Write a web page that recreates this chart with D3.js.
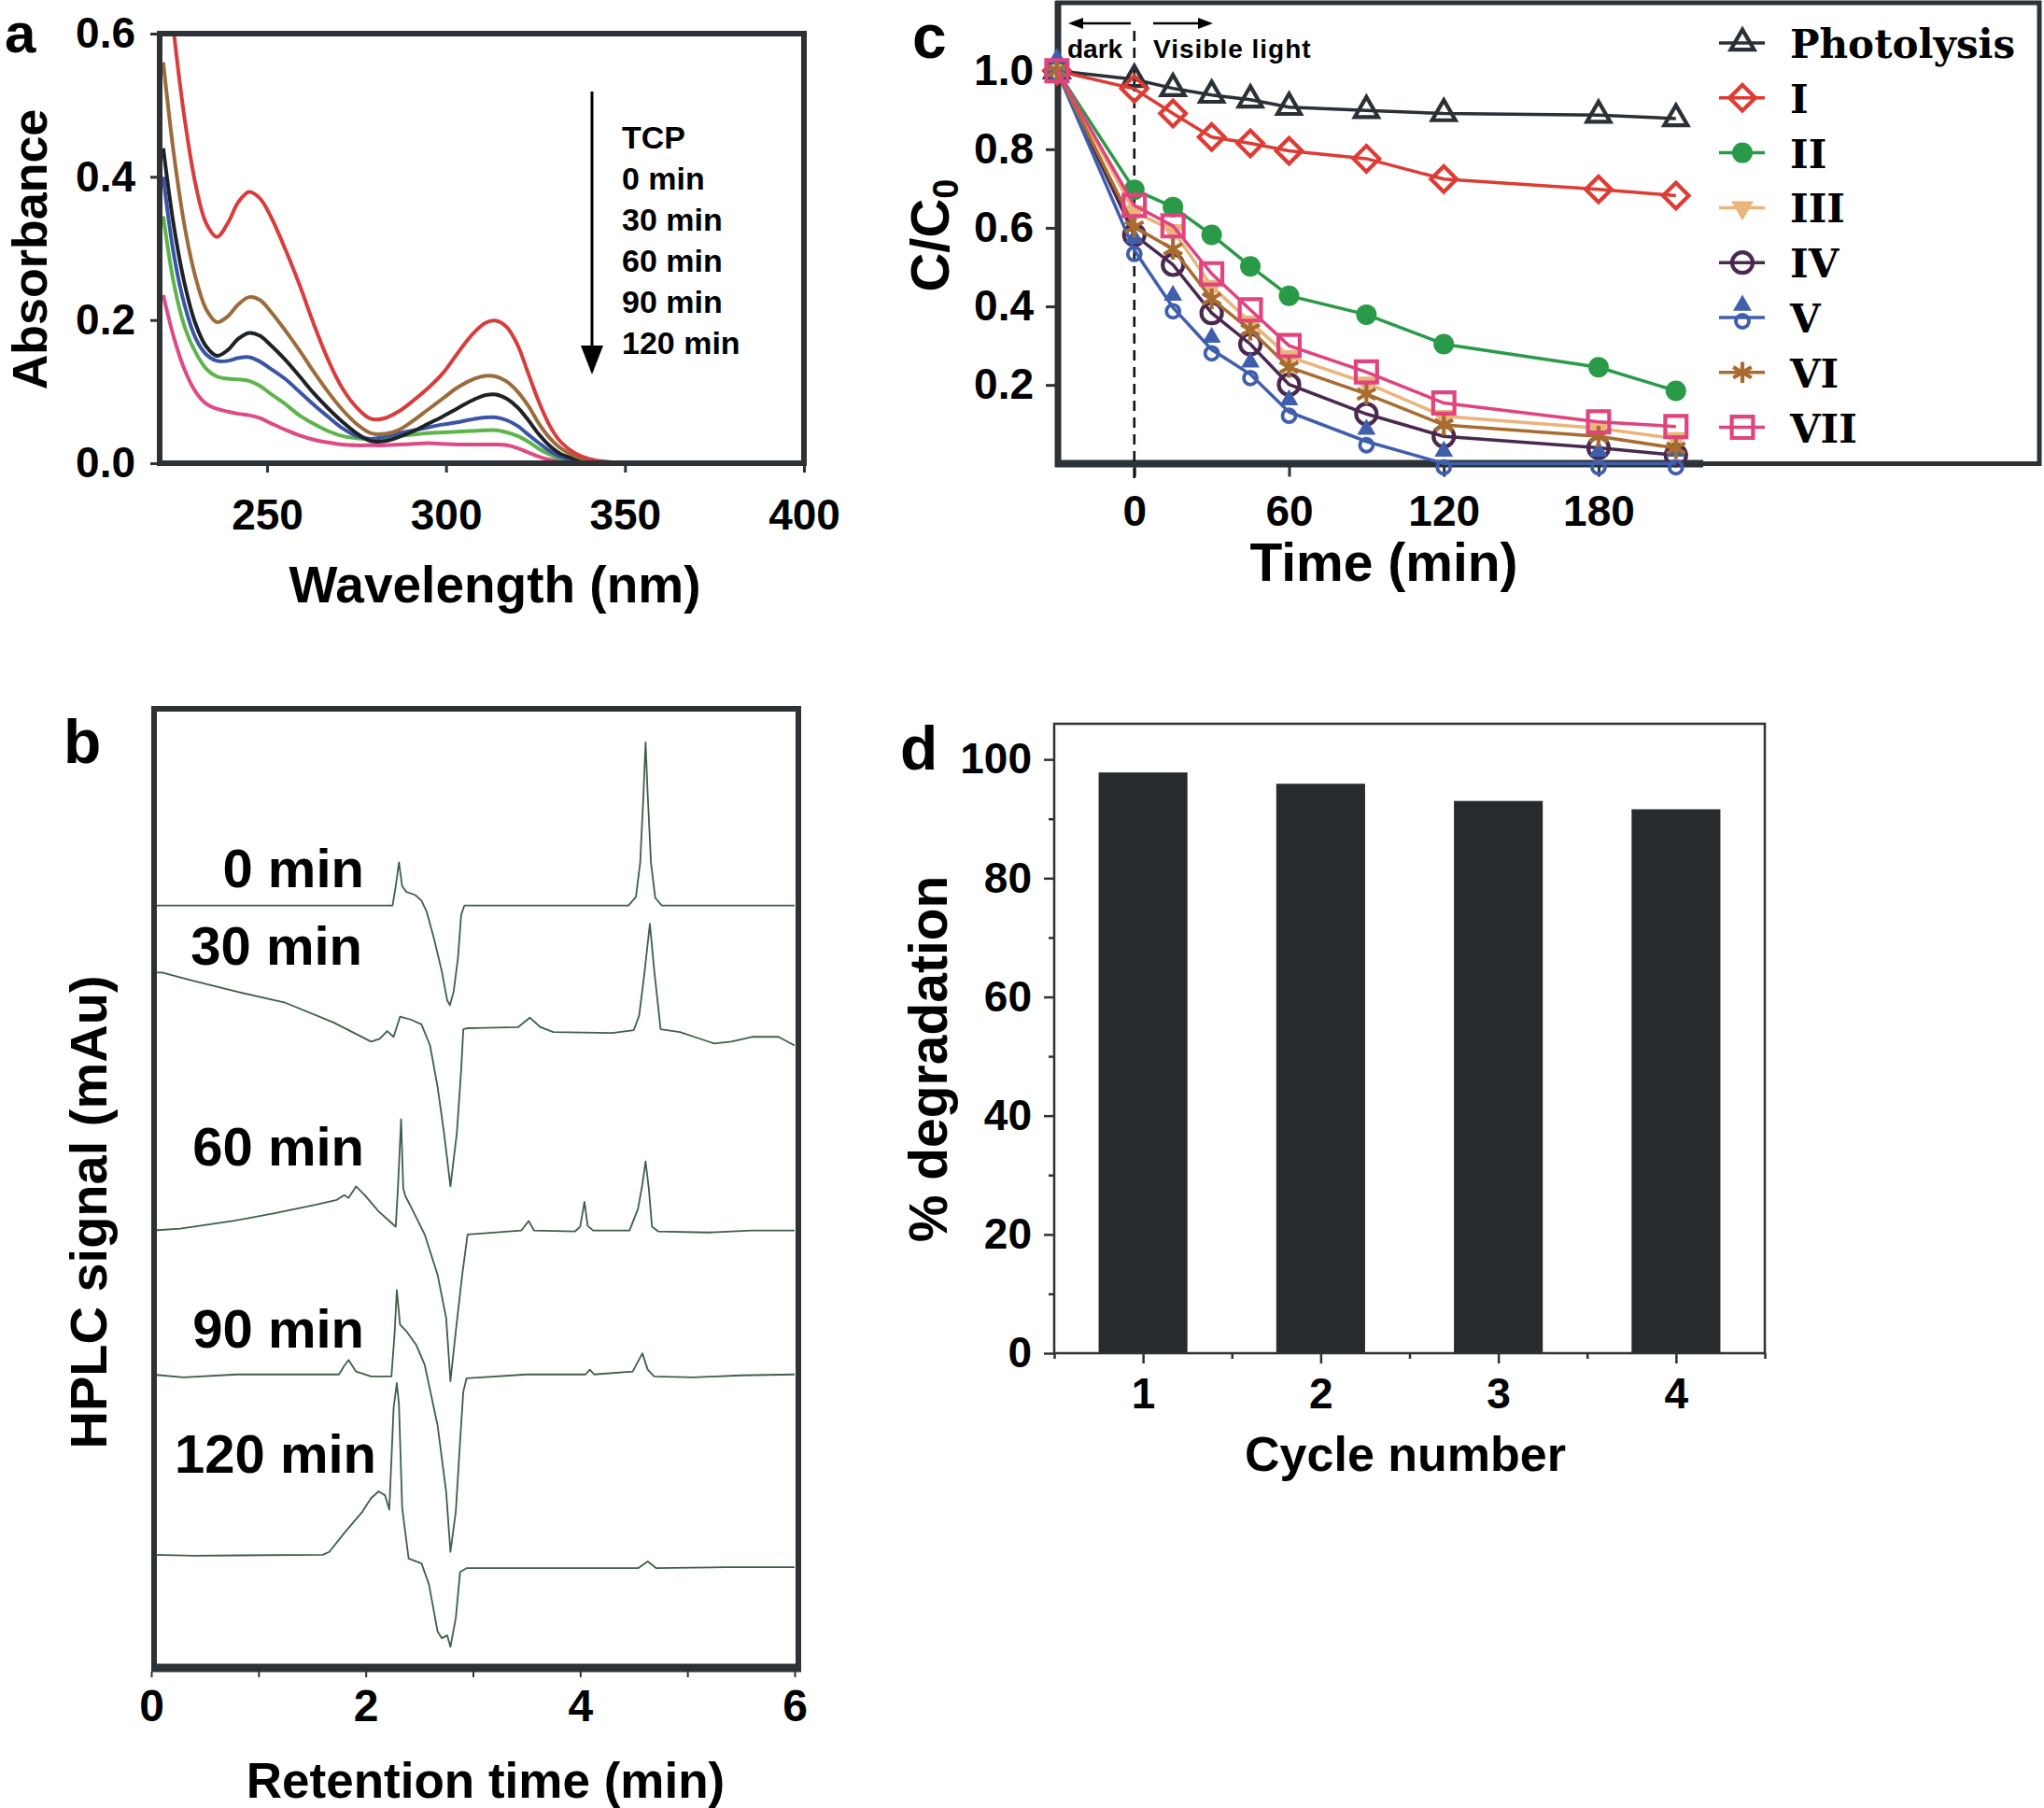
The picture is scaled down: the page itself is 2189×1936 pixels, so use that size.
<!DOCTYPE html>
<html><head><meta charset="utf-8">
<script src="https://cdn.jsdelivr.net/npm/d3@7"></script>
<style>
html,body{margin:0;padding:0;background:#fff;}
svg{display:block;}
</style></head><body>
<svg id="fig" width="2189" height="1936"></svg>
<script>
// ================= DATA =================
// Panel a : UV-vis spectra
const wavelengths = [221,224,227,230,233,236,239,242,245,248,251,255,259,263,267,271,275,279,283,287,291,295,299,303,307,311,314,317,320,323,326,329,332,336,340,345,350,400];
const absTCP  = [0.75,0.60,0.48,0.39,0.335,0.316,0.335,0.365,0.379,0.37,0.345,0.30,0.25,0.195,0.145,0.105,0.078,0.062,0.063,0.073,0.088,0.105,0.125,0.152,0.178,0.196,0.199,0.19,0.165,0.125,0.085,0.052,0.03,0.014,0.006,0.002,0.001,0];
const abs0    = [0.56,0.43,0.33,0.26,0.215,0.197,0.205,0.222,0.232,0.228,0.212,0.186,0.158,0.128,0.10,0.075,0.055,0.042,0.041,0.047,0.06,0.075,0.09,0.105,0.116,0.122,0.121,0.114,0.10,0.08,0.055,0.035,0.021,0.01,0.004,0.001,0,0];
const abs30   = [0.44,0.33,0.25,0.195,0.163,0.150,0.158,0.174,0.182,0.178,0.165,0.145,0.122,0.098,0.077,0.058,0.042,0.031,0.031,0.037,0.045,0.055,0.065,0.076,0.087,0.095,0.096,0.09,0.078,0.06,0.04,0.024,0.013,0.006,0.002,0.001,0,0];
const abs60   = [0.40,0.29,0.22,0.175,0.152,0.143,0.143,0.147,0.148,0.142,0.132,0.118,0.10,0.082,0.065,0.049,0.038,0.034,0.037,0.042,0.046,0.05,0.054,0.057,0.061,0.064,0.064,0.06,0.052,0.04,0.028,0.017,0.009,0.004,0.001,0,0,0];
const abs90   = [0.345,0.25,0.19,0.155,0.132,0.121,0.118,0.117,0.115,0.108,0.097,0.083,0.067,0.055,0.045,0.038,0.035,0.033,0.035,0.038,0.04,0.042,0.043,0.044,0.045,0.046,0.046,0.043,0.038,0.03,0.02,0.012,0.006,0.002,0.001,0,0,0];
const abs120  = [0.235,0.175,0.13,0.10,0.083,0.076,0.072,0.069,0.067,0.063,0.056,0.047,0.039,0.033,0.029,0.026,0.025,0.025,0.025,0.026,0.027,0.028,0.027,0.026,0.026,0.026,0.026,0.025,0.021,0.015,0.009,0.005,0.003,0.001,0,0,0,0];
const legendA = ["TCP","0 min","30 min","60 min","90 min","120 min"];
const ticksA_x = [250,300,350,400];
const ticksA_y = [0,0.2,0.4,0.6];

// Panel b : HPLC chromatograms [retention time, signal]
const hplc0 = [[0,79.5],[2.25,79.5],[2.28,81.5],[2.31,84.0],[2.34,81.5],[2.38,80.9],[2.46,80.6],[2.52,80.0],[2.57,78.8],[2.64,75.9],[2.71,72.6],[2.76,69.6],[2.785,69.1],[2.82,70.5],[2.86,74.0],[2.89,78.5],[2.92,79.5],[4.45,79.5],[4.52,80.4],[4.56,84],[4.59,91],[4.61,96.5],[4.63,91],[4.66,84],[4.7,80.3],[4.76,79.5],[6,79.5]];
const hplc30 = [[0,72.5],[0.1,72.5],[0.37,71.7],[0.8,70.5],[1.24,69.4],[1.7,67.3],[2.05,65.3],[2.13,65.6],[2.2,66.4],[2.26,65.8],[2.32,67.9],[2.42,67.6],[2.52,67.1],[2.6,64.9],[2.67,60.6],[2.73,55.8],[2.79,50.2],[2.85,55.8],[2.89,62.3],[2.91,66.6],[2.95,66.7],[3.42,66.8],[3.53,67.8],[3.63,66.8],[3.75,66.3],[4.3,66.2],[4.5,66.5],[4.55,68],[4.6,72.5],[4.65,77.6],[4.69,72.8],[4.75,66.6],[4.93,66.3],[5.09,65.7],[5.25,65.1],[5.41,65.3],[5.61,65.8],[5.85,65.8],[6,64.9]];
const hplc60 = [[0,45.6],[0.27,45.8],[0.76,46.6],[1.15,47.4],[1.54,48.3],[1.73,48.8],[1.8,49.3],[1.84,49.0],[1.91,50.2],[1.99,49.3],[2.12,47.6],[2.24,46.4],[2.28,46.0],[2.30,50],[2.33,57.2],[2.35,50],[2.37,49.2],[2.43,47.9],[2.55,45.2],[2.67,41.0],[2.75,36.5],[2.79,29.9],[2.84,35.1],[2.90,41.0],[2.95,45.2],[3.45,45.6],[3.52,46.6],[3.57,45.6],[3.95,45.5],[4.0,46.0],[4.04,48.6],[4.07,46.1],[4.12,45.6],[4.46,45.6],[4.54,47.9],[4.58,50.4],[4.61,52.8],[4.64,50],[4.67,46.0],[4.73,45.5],[5.2,45.4],[5.6,45.6],[6,45.6]];
const hplc90 = [[0,30.6],[0.3,30.3],[0.8,30.6],[1.54,30.6],[1.75,30.6],[1.8,31.5],[1.84,32.1],[1.91,30.9],[2.05,30.4],[2.24,30.4],[2.27,35],[2.29,39.4],[2.32,35.8],[2.38,35.1],[2.47,33.7],[2.55,31.6],[2.67,25.3],[2.75,18.4],[2.79,12.1],[2.84,16.3],[2.88,23.6],[2.91,28.8],[2.94,30.2],[3.5,30.6],[4.05,30.6],[4.09,31.1],[4.13,30.6],[4.49,30.9],[4.58,32.8],[4.63,31.1],[4.69,30.4],[5.06,30.3],[5.5,30.5],[6,30.6]];
const hplc120 = [[0,11.8],[0.4,11.7],[1.6,11.8],[1.66,12.1],[1.81,14.2],[1.97,16.3],[2.05,17.7],[2.12,18.4],[2.18,18.0],[2.22,16.5],[2.26,27.1],[2.29,29.7],[2.31,27.5],[2.34,16.7],[2.40,11.4],[2.52,10.9],[2.59,8.7],[2.67,3.8],[2.71,3.1],[2.76,3.4],[2.79,2.2],[2.84,5.2],[2.88,10.0],[2.94,10.4],[4.54,10.4],[4.63,11.1],[4.71,10.4],[5.36,10.5],[6,10.5]];
const labelsB = ["0 min","30 min","60 min","90 min","120 min"];
const ticksB_x = [0,1,2,3,4,5,6];

// Panel c : C/C0 vs time
const timeMin    = [-30,0,15,30,45,60,90,120,180,210];
const photolysis = [1.0,0.978,0.955,0.938,0.926,0.907,0.899,0.891,0.887,0.878];
const catI   = [1.0,0.954,0.891,0.831,0.815,0.796,0.776,0.724,0.698,0.682];
const catII  = [1.0,0.697,0.653,0.582,0.502,0.427,0.379,0.304,0.245,0.185];
const catIII = [1.0,0.641,0.593,0.451,0.36,0.272,0.205,0.12,0.09,0.063];
const catIV  = [1.0,0.582,0.506,0.383,0.304,0.201,0.126,0.069,0.04,0.021];
const catV   = [1.0,0.543,0.397,0.29,0.227,0.131,0.056,0.0,0.0,0.0];
const catVI  = [1.0,0.602,0.546,0.419,0.34,0.245,0.177,0.098,0.069,0.039];
const catVII = [1.0,0.657,0.605,0.483,0.391,0.300,0.233,0.154,0.106,0.094];
const namesC = ["Photolysis","I","II","III","IV","V","VI","VII"];
const ticksC_x = [0,60,120,180];
const ticksC_y = [0.2,0.4,0.6,0.8,1.0];

// Panel d : recycling
const cycles = [1,2,3,4];
const degradation = [97.8,95.9,93.0,91.6];
const ticksD_y = [0,20,40,60,80,100];

// ================= DRAWING =================
const svg = d3.select('#fig');
const FRAME = '#2d3236';
const SANS = '"Liberation Sans", Arial, Helvetica, sans-serif';
const SERIF = '"DejaVu Serif", "Liberation Serif", serif';
const defs = svg.append('defs');

function txt(g, s, x, y, fs, anchor='start', fam=SANS){
  return g.append('text').attr('x',x).attr('y',y).attr('font-size',fs)
    .attr('font-family',fam).attr('font-weight','bold').attr('fill','#000')
    .attr('text-anchor',anchor).text(s);
}
function rotTxt(g, s, cx, cy, fs){
  return g.append('text').attr('transform',`translate(${cx},${cy}) rotate(-90)`)
    .attr('font-size',fs).attr('font-family',SANS).attr('font-weight','bold')
    .attr('fill','#000').attr('text-anchor','middle').text(s);
}
function styleAxis(sel, fs, sw=3){
  sel.attr('font-family',SANS).attr('font-size',fs).attr('font-weight','bold');
  sel.select('.domain').remove();
  sel.selectAll('.tick line').attr('stroke',FRAME).attr('stroke-width',sw);
  sel.selectAll('.tick text').attr('fill','#000');
  return sel;
}

// ---------- Panel a ----------
{
  const g = svg.append('g');
  const x = d3.scaleLinear().domain([220,400]).range([171,861]);
  const y = d3.scaleLinear().domain([0,0.6]).range([496,36]);
  defs.append('clipPath').attr('id','clipA').append('rect')
    .attr('x',171).attr('y',36).attr('width',690).attr('height',460);
  const series = [
    {v:abs120,c:'#de4a86'},{v:abs90,c:'#5cb54a'},{v:abs60,c:'#3b55a6'},
    {v:abs30,c:'#1e2226'},{v:abs0,c:'#9c6b3b'},{v:absTCP,c:'#d83c3c'}];
  const line = d3.line().x((d,i)=>x(wavelengths[i])).y(d=>y(d)).curve(d3.curveCatmullRom.alpha(0.5));
  series.forEach(s=>g.append('path').attr('d',line(s.v)).attr('fill','none')
    .attr('stroke',s.c).attr('stroke-width',4).attr('clip-path','url(#clipA)'));
  g.append('rect').attr('x',171).attr('y',36).attr('width',690).attr('height',460)
    .attr('fill','none').attr('stroke',FRAME).attr('stroke-width',6);
  styleAxis(g.append('g').attr('transform','translate(0,496)')
    .call(d3.axisBottom(x).tickValues(ticksA_x).tickSize(10).tickPadding(28)), 46);
  styleAxis(g.append('g').attr('transform','translate(171,0)')
    .call(d3.axisLeft(y).tickValues(ticksA_y).tickFormat(d3.format('.1f')).tickSize(10).tickPadding(16)), 46);
  txt(g,'Wavelength (nm)',530,645,55,'middle');
  rotTxt(g,'Absorbance',50,267,52);
  txt(g,'a',5,56,60);
  // arrow + legend
  g.append('line').attr('x1',634).attr('x2',634).attr('y1',98).attr('y2',375)
    .attr('stroke','#000').attr('stroke-width',3);
  g.append('path').attr('d','M622,370 L646,370 L634,401 Z').attr('fill','#000');
  legendA.forEach((s,i)=>txt(g,s,666,159+i*44,34));
}

// ---------- Panel b ----------
{
  const g = svg.append('g');
  const x = d3.scaleLinear().domain([0,6]).range([162,851]);
  const y = d3.scaleLinear().domain([0,100]).range([1786,759]);
  defs.append('clipPath').attr('id','clipB').append('rect')
    .attr('x',165).attr('y',759).attr('width',690).attr('height',1027);
  const line = d3.line().x(d=>x(d[0])).y(d=>y(d[1]));
  [hplc0,hplc30,hplc60,hplc90,hplc120].forEach(tr=>g.append('path').attr('d',line(tr))
    .attr('fill','none').attr('stroke','#3e5f48').attr('stroke-width',1.8)
    .attr('stroke-linejoin','round').attr('clip-path','url(#clipB)'));
  g.append('rect').attr('x',165).attr('y',759).attr('width',690).attr('height',1027)
    .attr('fill','none').attr('stroke',FRAME).attr('stroke-width',6);
  g.append('line').attr('x1',162).attr('x2',858).attr('y1',1786).attr('y2',1786)
    .attr('stroke',FRAME).attr('stroke-width',9);
  styleAxis(g.append('g').attr('transform','translate(0,1790)')
    .call(d3.axisBottom(x).tickValues(ticksB_x).tickFormat(d=>d%2===0?d:'').tickSize(6).tickPadding(13)), 48, 2);
  const lab = [[390,950],[388,1033],[390,1248],[390,1443],[403,1577]];
  labelsB.forEach((s,i)=>txt(g,s,lab[i][0],lab[i][1],58,'end'));
  txt(g,'Retention time (min)',520,1925,53,'middle');
  rotTxt(g,'HPLC signal (mAu)',114,1298,56);
  txt(g,'b',68,817,66);
}

// ---------- Panel c ----------
{
  const g = svg.append('g');
  const x = d3.scaleLinear().domain([-30,210]).range([1131.9,1794.8]);
  const y = d3.scaleLinear().domain([0,1]).range([496.3,75.7]);
  // frame
  g.append('rect').attr('x',1133).attr('y',3).attr('width',1051).attr('height',493.5)
    .attr('fill','none').attr('stroke',FRAME).attr('stroke-width',5);
  g.append('line').attr('x1',1130).attr('x2',1824).attr('y1',496.5).attr('y2',496.5)
    .attr('stroke',FRAME).attr('stroke-width',8);
  g.append('line').attr('x1',1133).attr('x2',1133).attr('y1',1).attr('y2',500)
    .attr('stroke',FRAME).attr('stroke-width',7);
  styleAxis(g.append('g').attr('transform','translate(0,496.5)')
    .call(d3.axisBottom(x).tickValues(ticksC_x).tickSize(14).tickPadding(20)), 46, 3);
  styleAxis(g.append('g').attr('transform','translate(1133,0)')
    .call(d3.axisLeft(y).tickValues(ticksC_y).tickFormat(d3.format('.1f')).tickSize(13).tickPadding(13)), 46, 3);
  // dashed dark/light separator
  g.append('line').attr('x1',x(0)).attr('x2',x(0)).attr('y1',33).attr('y2',512)
    .attr('stroke','#111').attr('stroke-width',2.6).attr('stroke-dasharray','11,7');
  // arrows
  g.append('line').attr('x1',1211).attr('x2',1155).attr('y1',25).attr('y2',25).attr('stroke','#000').attr('stroke-width',2.5);
  g.append('path').attr('d','M1144,25 L1160,19 L1160,31 Z').attr('fill','#000');
  g.append('line').attr('x1',1235).attr('x2',1288).attr('y1',25).attr('y2',25).attr('stroke','#000').attr('stroke-width',2.5);
  g.append('path').attr('d','M1299,25 L1283,19 L1283,31 Z').attr('fill','#000');
  txt(g,'dark',1143,62,28);
  txt(g,'Visible light',1235,62,28).attr('letter-spacing',1);

  const colors = ['#2a3035','#dd3b33','#2a9a48','#ebb47a','#4a2850','#3f5eac','#a86c30','#e0437d'];
  const values = [photolysis,catI,catII,catIII,catIV,catV,catVI,catVII];
  const types = ['triUp','diamond','dot','triDown','ring','vmark','star','square'];
  function marker(sel, type, c){
    const sym = (t,s)=>d3.symbol().type(t).size(s)();
    if(type==='triUp') sel.append('path').attr('d',sym(d3.symbolTriangle,270)).attr('fill','none').attr('stroke',c).attr('stroke-width',4.2);
    if(type==='diamond') sel.append('path').attr('d',sym(d3.symbolSquare,380)).attr('transform','rotate(45)').attr('fill','none').attr('stroke',c).attr('stroke-width',4.2);
    if(type==='dot') sel.append('circle').attr('r',11).attr('fill',c);
    if(type==='triDown') sel.append('path').attr('d',sym(d3.symbolTriangle,250)).attr('transform','rotate(180)').attr('fill',c);
    if(type==='ring') sel.append('circle').attr('r',11).attr('fill','none').attr('stroke',c).attr('stroke-width',4.2);
    if(type==='vmark'){
      sel.append('circle').attr('cy',4).attr('r',7).attr('fill','none').attr('stroke',c).attr('stroke-width',3.8);
      sel.append('path').attr('d',sym(d3.symbolTriangle,170)).attr('transform','translate(0,-13)').attr('fill',c);
    }
    if(type==='star') sel.append('path').attr('d',sym(d3.symbolAsterisk,360)).attr('fill','none').attr('stroke',c).attr('stroke-width',4.2);
    if(type==='square') sel.append('path').attr('d',sym(d3.symbolSquare,520)).attr('fill','none').attr('stroke',c).attr('stroke-width',4.2);
  }
  const line = d3.line().x((d,i)=>x(timeMin[i])).y(d=>y(d));
  values.forEach((v,k)=>{
    const sg = g.append('g');
    sg.append('path').attr('d',line(v)).attr('fill','none').attr('stroke',colors[k]).attr('stroke-width',3.5);
    v.forEach((d,i)=>{
      const m = sg.append('g').attr('transform',`translate(${x(timeMin[i])},${y(d)})`);
      marker(m,types[k],colors[k]);
    });
  });
  // legend
  namesC.forEach((n,k)=>{
    const cy = 46 + k*58.8;
    g.append('line').attr('x1',1841).attr('x2',1890).attr('y1',cy).attr('y2',cy).attr('stroke',colors[k]).attr('stroke-width',3.5);
    marker(g.append('g').attr('transform',`translate(1866,${cy})`),types[k],colors[k]);
    txt(g,n,1917,cy+16,42,'start',SERIF);
  });
  txt(g,'Time (min)',1482,622,57,'middle');
  const yl = g.append('text').attr('transform','translate(1016,252) rotate(-90)')
    .attr('font-family',SANS).attr('font-weight','bold').attr('font-size',58).attr('text-anchor','middle');
  yl.append('tspan').text('C/C');
  yl.append('tspan').attr('font-size',38).attr('dy',10).text('0');
  txt(g,'c',977,62,66);
}

// ---------- Panel d ----------
{
  const g = svg.append('g');
  const x = d3.scaleLinear().domain([0.5,4.5]).range([1129,1890]);
  const y = d3.scaleLinear().domain([0,106]).range([1449,775]);
  g.selectAll('rect.bar').data(degradation).enter().append('rect')
    .attr('x',(d,i)=>x(cycles[i]-0.25)).attr('width',(d,i)=>x(cycles[i]+0.25)-x(cycles[i]-0.25))
    .attr('y',d=>y(d)).attr('height',d=>y(0)-y(d)).attr('fill','#272b2e');
  g.append('rect').attr('x',1129).attr('y',775).attr('width',761).attr('height',674)
    .attr('fill','none').attr('stroke',FRAME).attr('stroke-width',2.5);
  styleAxis(g.append('g').attr('transform','translate(1129,0)')
    .call(d3.axisLeft(y).tickValues(ticksD_y).tickSize(11).tickPadding(13)), 46, 2.5);
  styleAxis(g.append('g').attr('transform','translate(1129,0)')
    .call(d3.axisLeft(y).tickValues([10,30,50,70,90]).tickSize(6).tickFormat('')), 46, 2.5);
  styleAxis(g.append('g').attr('transform','translate(0,1449)')
    .call(d3.axisBottom(x).tickValues(cycles).tickFormat(d3.format('d')).tickSize(11).tickPadding(15)), 46, 2.5);
  styleAxis(g.append('g').attr('transform','translate(0,1449)')
    .call(d3.axisBottom(x).tickValues([0.5,1.5,2.5,3.5,4.5]).tickSize(6).tickFormat('')), 46, 2.5);
  txt(g,'Cycle number',1505,1575,52,'middle');
  rotTxt(g,'% degradation',1014,1134,57);
  txt(g,'d',964,824,66);
}
</script>
</body></html>
